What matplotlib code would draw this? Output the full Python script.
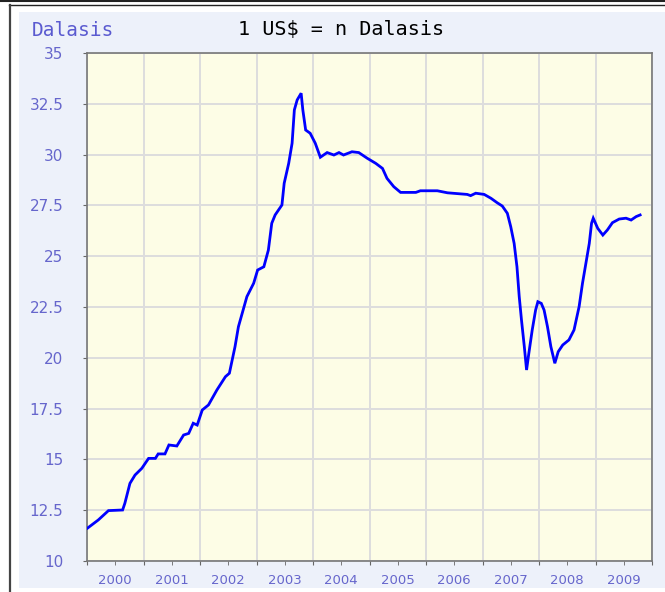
import matplotlib
matplotlib.use('Agg')
import matplotlib.pyplot as plt
from matplotlib.lines import Line2D
from matplotlib.patches import Rectangle
import numpy as np

# exchange rate, 1 US$ in Dalasis (decimal years)
years = [2000.01, 2000.20, 2000.38, 2000.63, 2000.67, 2000.76, 2000.85, 2000.97,
         2001.09, 2001.21, 2001.26, 2001.38, 2001.45, 2001.59, 2001.71, 2001.80,
         2001.88, 2001.95, 2002.04, 2002.15, 2002.30, 2002.45, 2002.52, 2002.62,
         2002.68, 2002.83, 2002.95, 2003.02, 2003.13, 2003.21, 2003.27, 2003.33,
         2003.45, 2003.49, 2003.57, 2003.63, 2003.67, 2003.72, 2003.79, 2003.82,
         2003.87, 2003.95, 2004.04, 2004.13, 2004.25, 2004.37, 2004.46, 2004.54,
         2004.69, 2004.81, 2004.96, 2005.11, 2005.23, 2005.31, 2005.43, 2005.55,
         2005.82, 2005.90, 2006.20, 2006.38, 2006.73, 2006.79, 2006.88, 2007.03,
         2007.15, 2007.26, 2007.35, 2007.44, 2007.50, 2007.56, 2007.61, 2007.65,
         2007.69, 2007.74, 2007.78, 2007.82, 2007.88, 2007.94, 2007.98, 2008.04,
         2008.09, 2008.15, 2008.21, 2008.28, 2008.34, 2008.42, 2008.53, 2008.62,
         2008.71, 2008.77, 2008.83, 2008.89, 2008.93, 2008.96, 2009.04, 2009.13,
         2009.21, 2009.30, 2009.42, 2009.54, 2009.63, 2009.72, 2009.79]
rates = [11.62, 12.02, 12.48, 12.51, 12.84, 13.82, 14.23, 14.56,
         15.05, 15.05, 15.27, 15.27, 15.71, 15.66, 16.20, 16.28,
         16.78, 16.69, 17.43, 17.68, 18.42, 19.07, 19.24, 20.55,
         21.53, 23.01, 23.67, 24.32, 24.48, 25.30, 26.62, 27.03,
         27.52, 28.59, 29.57, 30.56, 32.20, 32.69, 33.02, 32.20,
         31.21, 31.05, 30.56, 29.87, 30.10, 29.98, 30.10, 29.98,
         30.14, 30.10, 29.82, 29.57, 29.32, 28.83, 28.42, 28.14,
         28.14, 28.22, 28.22, 28.12, 28.04, 27.98, 28.10, 28.04,
         27.85, 27.63, 27.47, 27.11, 26.45, 25.63, 24.48, 23.01,
         21.86, 20.55, 19.40, 20.22, 21.37, 22.35, 22.76, 22.68,
         22.35, 21.53, 20.55, 19.73, 20.30, 20.63, 20.88, 21.37,
         22.52, 23.67, 24.65, 25.63, 26.62, 26.87, 26.37, 26.04,
         26.29, 26.65, 26.83, 26.87, 26.78, 26.95, 27.03]

year_labels = ['2000', '2001', '2002', '2003', '2004', '2005', '2006', '2007', '2008', '2009']
y_ticks = [10, 12.5, 15, 17.5, 20, 22.5, 25, 27.5, 30, 32.5, 35]
y_labels = ['10', '12.5', '15', '17.5', '20', '22.5', '25', '27.5', '30', '32.5', '35']

W, H = 665, 592
label_col = '#6666cc'

fig = plt.figure(figsize=(W / 100, H / 100), dpi=100, facecolor='white')

# window frame and panel background
fig.patches.append(Rectangle((19 / W, 4 / H), 1 - 19 / W, 1 - 16 / H,
                             transform=fig.transFigure, facecolor='#edf1fa',
                             edgecolor='none', zorder=-5))
fig.lines.append(Line2D([0, 1], [1 - 1 / H, 1 - 1 / H], transform=fig.transFigure,
                        color='#222222', lw=1.5, zorder=-4))
fig.lines.append(Line2D([9 / W, 1], [1 - 4.5 / H, 1 - 4.5 / H], transform=fig.transFigure,
                        color='#222222', lw=1, zorder=-4))
fig.lines.append(Line2D([10 / W, 10 / W], [0, 1 - 4.5 / H], transform=fig.transFigure,
                        color='#444444', lw=1.6, zorder=-4))

ax = fig.add_axes([87 / W, 31 / H, 565 / W, 508 / H], zorder=2)
ax.set_facecolor('#fdfde6')
ax.plot(years, rates, color='#0000ff', lw=2.0, solid_joinstyle='miter', zorder=3)

ax.set_xlim(2000, 2010)
ax.set_ylim(10, 35)

ax.set_xticks(np.arange(2000, 2010.01, 1))
ax.set_xticklabels([])
ax.set_xticks(np.arange(2000.5, 2010, 1), minor=True)
ax.set_xticklabels(year_labels, minor=True)
ax.set_yticks(y_ticks)
ax.set_yticklabels(y_labels)

ax.tick_params(axis='x', which='both', length=3, color='#666666', labelsize=9.5,
               labelcolor=label_col, pad=6)
ax.tick_params(axis='y', length=3, color='#666666', labelsize=11,
               labelcolor=label_col, pad=14)

ax.grid(True, which='major', color='#dddddd', lw=1.4, zorder=1)
ax.set_axisbelow(True)
for s in ax.spines.values():
    s.set_color('#777777')
    s.set_linewidth(1.2)

fig.text(32 / W, 1 - 30 / H, 'Dalasis', color='#5a5ad0', fontsize=14,
         family='DejaVu Sans Mono', va='center', ha='left')
fig.text(341 / W, 1 - 30 / H, '1 US$ = n Dalasis', color='black', fontsize=14.5,
         family='DejaVu Sans Mono', va='center', ha='center')

fig.savefig('out.png', dpi=100, facecolor='white')
